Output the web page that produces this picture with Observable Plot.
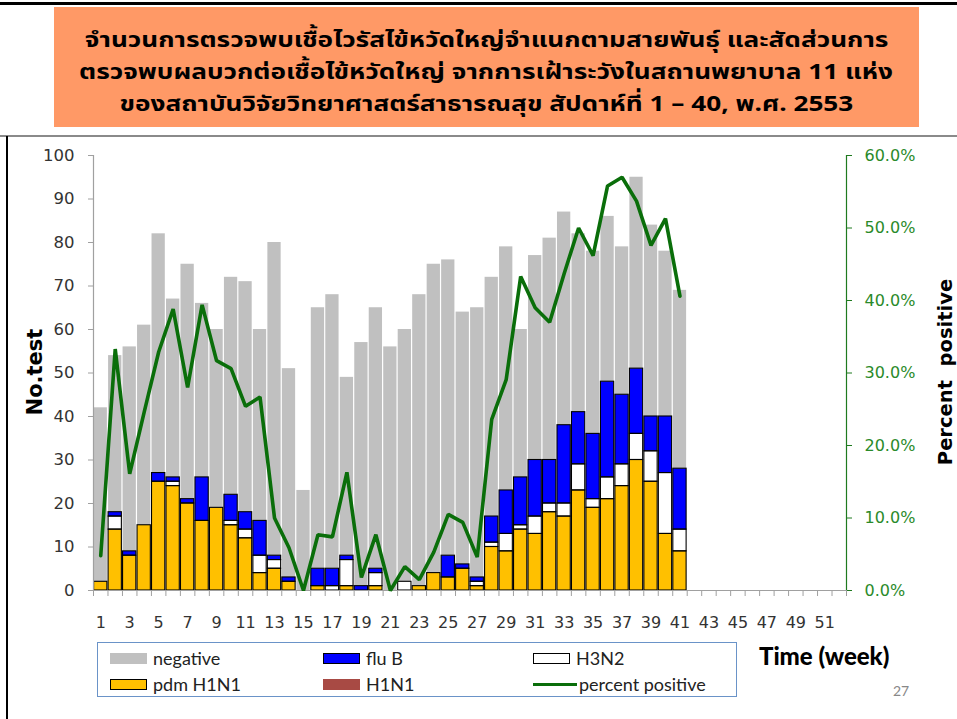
<!DOCTYPE html>
<html><head><meta charset="utf-8">
<script src="https://cdn.jsdelivr.net/npm/d3@7"></script>
<script src="https://cdn.jsdelivr.net/npm/@observablehq/plot@0.6"></script>
<style>
body{margin:0;background:#fff;}
#page{position:relative;width:957px;height:719px;overflow:hidden;font-family:"DejaVu Sans",sans-serif;background:#fff;}
.topline{position:absolute;left:0;top:2px;width:957px;height:3px;background:#000;}
.grayline{position:absolute;left:0;top:135px;width:957px;height:2px;background:#8a8a8a;}
.leftline{position:absolute;left:6px;top:136px;width:2px;height:583px;background:#000;}
#title{position:absolute;left:54px;top:7px;width:865px;height:120px;background:#FF9966;box-sizing:border-box;padding-top:18px;text-align:center;
  font-family:Tahoma,"Noto Sans Thai","Loma","Garuda","DejaVu Sans",sans-serif;font-weight:bold;font-size:22px;color:#000;white-space:nowrap;}
#title div{height:32px;line-height:32px;}
#title span{display:inline-block;transform:scaleX(1.19);}
#chart{position:absolute;left:0;top:130px;}
.rot{position:absolute;transform:translate(-50%,-50%) rotate(-90deg);white-space:pre;font-weight:bold;color:#000;}
#ylab{left:35px;top:372px;font-size:21px;}
#y2lab{left:945px;top:372px;font-size:19.5px;}
#xlab{position:absolute;left:759px;top:641px;font-family:Lato,"Open Sans",sans-serif;font-weight:900;font-size:24px;color:#000;}
#legend{position:absolute;left:97px;top:642px;width:640px;height:55px;box-sizing:border-box;border:1px solid #6a93c8;font-family:Lato,"Open Sans",sans-serif;font-size:18px;color:#222;}
.item{position:absolute;display:flex;align-items:center;height:20px;}
.sw{width:37px;height:11px;box-sizing:border-box;margin-right:6px;}
.ln{width:44px;height:3px;background:#0a6e0a;margin-right:2px;}
#pnum{position:absolute;left:893px;top:682px;font-family:Lato,sans-serif;font-size:14px;color:#888;}
</style></head><body>
<div id="page">
 <div class="topline"></div>
 <div id="title"><div><span>จำนวนการตรวจพบเชื้อไวรัสไข้หวัดใหญ่จำแนกตามสายพันธุ์ และสัดส่วนการ</span></div><div><span>ตรวจพบผลบวกต่อเชื้อไข้หวัดใหญ่ จากการเฝ้าระวังในสถานพยาบาล 11 แห่ง</span></div><div><span>ของสถาบันวิจัยวิทยาศาสตร์สาธารณสุข สัปดาห์ที่ 1 – 40, พ.ศ. 2553</span></div></div>
 <div class="grayline"></div>
 <div class="leftline"></div>
 <div id="chart"></div>
 <div id="ylab" class="rot">No.test</div>
 <div id="y2lab" class="rot">Percent  positive</div>
 <div id="xlab">Time (week)</div>
 <div id="legend"></div>
 <div id="pnum">27</div>
</div>
<script>
// ---- data ----
const dataWeeks = [1,2,3,4,5,6,7,8,9,10,11,12,13,14,15,16,17,18,19,20,21,22,23,24,25,26,27,28,29,30,31,32,33,34,35,36,37,38,39,40,41];
const pdmH1N1  = [2,14,8,15,25,24,20,16,19,15,12,4,5,2,0,1,0,1,0,1,0,0,1,4,3,5,1,10,9,14,13,18,17,23,19,21,24,30,25,13,9];
const h1n1     = [0,0,0,0,0,0,0,0,0,0,0,0,0,0,0,0,0,0,0,0,0,0,0,0,0,0,0,0,0,0,0,0,0,0,0,0,0,0,0,0,0];
const h3n2     = [0,3,0,0,0,1,0,0,0,1,2,4,2,0,0,0,1,6,0,3,0,2,0,0,0,0,1,1,4,1,4,2,3,6,2,5,5,6,7,14,5];
const fluB     = [0,1,1,0,2,1,1,10,0,6,4,8,1,1,0,4,4,1,1,1,0,0,0,0,5,1,1,6,10,11,13,10,18,12,15,22,16,15,8,13,14];
const negative = [40,36,47,46,55,41,54,40,41,50,53,44,72,48,23,60,63,41,56,60,56,58,67,71,68,58,62,55,56,34,47,51,49,41,42,38,34,44,44,38,41];
const percentPositive = [4.8,33.3,16.1,24.6,32.9,38.8,28.0,39.4,31.7,30.6,25.4,26.7,10.0,5.9,0,7.7,7.4,16.3,1.8,7.7,0,3.3,1.5,5.3,10.5,9.4,4.6,23.6,29.1,43.3,39.0,37.0,43.7,50.0,46.2,55.8,57.0,53.7,47.6,51.3,40.6];
const allWeeks = [1,2,3,4,5,6,7,8,9,10,11,12,13,14,15,16,17,18,19,20,21,22,23,24,25,26,27,28,29,30,31,32,33,34,35,36,37,38,39,40,41,42,43,44,45,46,47,48,49,50,51,52];
const weekLabels = [1,3,5,7,9,11,13,15,17,19,21,23,25,27,29,31,33,35,37,39,41,43,45,47,49,51];
const countTicks = [0,10,20,30,40,50,60,70,80,90,100];
const percentTicks = [0,10,20,30,40,50,60];
const seriesNames = ["pdm H1N1","H1N1","H3N2","flu B","negative"];
const seriesColors = ["#FFC000","#A84A44","#FFFFFF","#0000FF","#C0C0C0"];

// ---- tables ----
const seriesVals = [pdmH1N1, h1n1, h3n2, fluB, negative];
const rows = [];
dataWeeks.forEach((w,i)=>seriesNames.forEach((s,j)=>rows.push({week:w, series:s, value:seriesVals[j][i]})));
const positives = rows.filter(r=>r.series!=="negative");
const pctRows = dataWeeks.map((w,i)=>({week:w, pct:percentPositive[i]}));
const toCount = p => p*100/60;
const xMin = allWeeks[0]-0.5, xMax = allWeeks[allWeeks.length-1]+0.5;
const boundaries = allWeeks.map(w=>w-0.5).concat([xMax]);

const W = 957, ML = 93, MR = 111;
const green = "#2a8a2a";
const barOpts = {x:"week", x1: d=>d.week-0.5, x2: d=>d.week+0.5, y:"value", insetLeft:0.6, insetRight:0.6};

const chart = Plot.plot({
  width: W, height: 520,
  marginLeft: ML, marginRight: MR, marginTop: 25, marginBottom: 60,
  style: {fontFamily: '"DejaVu Sans", Verdana, sans-serif', background: "transparent", overflow: "visible"},
  x: {domain: [xMin, xMax], axis: null},
  y: {domain: [0,100], axis: null},
  color: {domain: seriesNames, range: seriesColors},
  marks: [
    Plot.rectY(rows, Plot.stackY({...barOpts, fill:"series", order: seriesNames})),
    Plot.rectY(positives, Plot.stackY({...barOpts, z:"series", order: seriesNames.slice(0,4), filter: d=>d.value>0,
      fill:"none", stroke:"#000", strokeWidth:1.1})),
    Plot.ruleY([0], {stroke:"#a0a0a0", strokeWidth:1.2}),
    Plot.ruleX([xMin], {y1:0, y2:100, stroke:"#a0a0a0", strokeWidth:1.2}),
    Plot.ruleX([xMax], {y1:0, y2:100, stroke:"#1f7a1f", strokeWidth:1.2}),
    Plot.axisX({ticks: boundaries, tickSize: 6, tickFormat: ()=>"", stroke:"#a0a0a0", label: null}),
    Plot.axisX({ticks: weekLabels, tickSize: 0, tickPadding: 26, fontSize: 16, fill:"#333", label: null}),
    Plot.axisY({ticks: countTicks, tickSize: 5, tickPadding: 14, fontSize: 16.5, stroke:"#a0a0a0", fill:"#333", label: null}),
    Plot.axisY({anchor:"right", ticks: percentTicks.map(toCount), tickFormat: d=>(d*0.6).toFixed(1)+"%",
      tickSize: 5, tickPadding: 13, fontSize: 16, stroke:"#1f7a1f", fill: green, label: null}),
    Plot.line(pctRows, {x:"week", y: d=>toCount(d.pct), stroke:"#0a6e0a", strokeWidth:3.6, strokeLinejoin:"miter"})
  ]
});
document.getElementById("chart").appendChild(chart);

// ---- legend ----
const legendItems = [
  {label:"negative", kind:"sw", color:"#C0C0C0", border:"none", x:12, y:5},
  {label:"flu B", kind:"sw", color:"#0000FF", border:"1px solid #000", x:225, y:5},
  {label:"H3N2", kind:"sw", color:"#FFFFFF", border:"1px solid #000", x:435, y:5},
  {label:"pdm H1N1", kind:"sw", color:"#FFC000", border:"1px solid #000", x:12, y:31},
  {label:"H1N1", kind:"sw", color:"#A84A44", border:"none", x:225, y:31},
  {label:"percent positive", kind:"ln", color:"#0a6e0a", x:435, y:31}
];
const lg = document.getElementById("legend");
legendItems.forEach(it=>{
  const d = document.createElement("div");
  d.className = "item";
  d.style.left = it.x+"px"; d.style.top = it.y+"px";
  const s = document.createElement("div");
  s.className = it.kind;
  s.style.background = it.color;
  if (it.kind==="sw") s.style.border = it.border;
  const t = document.createElement("span");
  t.textContent = it.label;
  d.appendChild(s); d.appendChild(t);
  lg.appendChild(d);
});
</script>
</body></html>
